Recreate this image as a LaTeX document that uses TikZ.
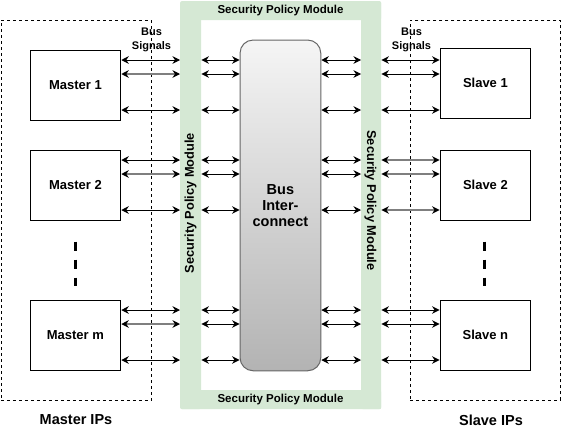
\documentclass[tikz,border=0pt]{standalone}
\usepackage{fontspec}
\setmainfont{Liberation Sans}
\usetikzlibrary{arrows.meta}
\definecolor{spmgreen}{HTML}{D5E8D4}
\definecolor{busedge}{HTML}{666666}
\definecolor{bustop}{HTML}{F5F5F5}
\definecolor{busbot}{HTML}{B3B3B3}
\definecolor{sigline}{HTML}{7F7F7F}
\tikzset{
  ipbox/.style={draw=black, line width=1pt, minimum width=90.7pt, minimum height=70pt, inner sep=0pt, font=\bfseries\fontsize{13}{15}\selectfont},
  ipgroup/.style={draw=black, line width=0.8pt, dash pattern=on 3pt off 3pt, inner sep=0pt, anchor=north west},
  strip/.style={fill=spmgreen, inner sep=0pt, anchor=north west, rounded corners=2pt},
  spmtext/.style={font=\bfseries\fontsize{11.5}{13}\selectfont, inner sep=0pt},
  spmvtext/.style={font=\bfseries\fontsize{12.8}{14}\selectfont, inner sep=0pt},
  bigtext/.style={font=\bfseries\fontsize{14.5}{16}\selectfont, inner sep=0pt},
  sigtext/.style={font=\bfseries\fontsize{11}{14}\selectfont, align=center, inner sep=0pt},
  bustext/.style={font=\bfseries\fontsize{14.5}{16}\selectfont, align=center},
  bi/.style={line width=1pt, black, {Stealth[length=7.5pt,width=7.5pt,inset=2.5pt]}-{Stealth[length=7.5pt,width=7.5pt,inset=2.5pt]}},
  gbi/.style={line width=2pt, sigline, {Stealth[length=7.5pt,width=7.5pt,inset=2.5pt,black]}-{Stealth[length=7.5pt,width=7.5pt,inset=2.5pt,black]}},
  vdots/.style={line width=3pt, black, dash pattern=on 9pt off 9pt},
}
\begin{document}
\begin{tikzpicture}[x=1pt,y=-1pt]
\useasboundingbox[fill=white] (0,0) rectangle (561,431);

% IP group boxes
\node[ipgroup, minimum width=150.5pt, minimum height=380pt] (mgroup) at (0.5,20) {};
\node[ipgroup, minimum width=150pt, minimum height=380pt] (sgroup) at (410,20) {};
\node[bigtext] (mlabel) at (76,420) {Master IPs};
\node[bigtext] (slabel) at (491,420) {Slave IPs};

% Security policy module frame
\node[strip, minimum width=201pt, minimum height=19pt] (spmT) at (180,1) {};
\node[strip, minimum width=201pt, minimum height=19pt] (spmB) at (180,390) {};
\node[strip, minimum width=21pt, minimum height=408pt] (spmL) at (180,1) {};
\node[strip, minimum width=20pt, minimum height=408pt] (spmR) at (361,1) {};
\node[spmtext] (spmTt) at (280.5,10.5) {Security Policy Module};
\node[spmtext] (spmBt) at (280.5,400) {Security Policy Module};
\node[spmvtext, rotate=90] (spmLt) at (190.5,203) {Security Policy Module};
\node[spmvtext, rotate=-90] (spmRt) at (370.5,200.5) {Security Policy Module};

% Bus interconnect
\node[draw=busedge, line width=1pt, rounded corners=13pt, top color=bustop, bottom color=busbot,
      minimum width=80.7pt, minimum height=330.7pt, inner sep=0pt] (bus) at (280.4,205.4) {};
\node[bustext] (bustxt) at (bus.center) {Bus\\Inter-\\connect};

% Master and slave IPs
\node[ipbox] (M1) at (75.4,85) {Master 1};
\node[ipbox] (M2) at (75.4,185) {Master 2};
\node[ipbox] (Mm) at (75.4,335) {Master m};
\node[ipbox] (S1) at (485.4,83) {Slave 1};
\node[ipbox] (S2) at (485.4,185) {Slave 2};
\node[ipbox] (Sn) at (485.4,335) {Slave n};

% Bus signal labels
\node[sigtext] (bsL) at (151.5,40) {Bus\\Signals};
\node[sigtext] (bsR) at (411.5,40) {Bus\\Signals};

% continuation dashes
\draw[vdots] ([yshift=-21pt]M2.south) -- ([yshift=-65pt]M2.south);
\draw[vdots] ([xshift=-1pt,yshift=-21pt]S2.south) -- ([xshift=-1pt,yshift=-65pt]S2.south);

% signal rows
\foreach \r/\ya/\yb/\yc in {1/60/74/110, 2/160/174/210, 3/310/324/360} {
  \coordinate (r\r-1) at (0,\ya);
  \coordinate (r\r-2) at (0,\yb);
  \coordinate (r\r-3) at (0,\yc);
}

% signal arrows
\foreach \m/\s/\r/\rs in {M1/S1/1/bi, M2/S2/2/gbi, Mm/Sn/3/bi} {
  \foreach \k/\ls in {1/bi, 2/gbi, 3/bi} {
    \draw[\ls] (\m.east |- r\r-\k) -- (spmL.west |- r\r-\k);
    \draw[bi] (spmL.east |- r\r-\k) -- (bus.west |- r\r-\k);
    \draw[bi] (bus.east |- r\r-\k) -- (spmR.west |- r\r-\k);
    \draw[\rs] (spmR.east |- r\r-\k) -- (\s.west |- r\r-\k);
  }
}
\end{tikzpicture}
\end{document}
